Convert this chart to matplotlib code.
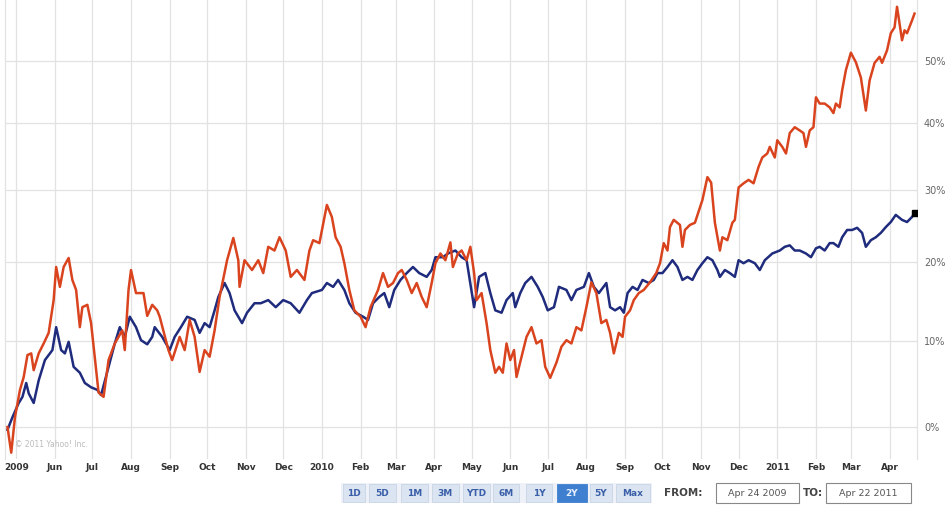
import matplotlib
matplotlib.use("Agg")
import matplotlib.pyplot as plt
import matplotlib.dates as mdates
from matplotlib.patches import Rectangle
import numpy as np
import pandas as pd

# ---------------- data ----------------
red_dates = ["2009-04-24","2009-04-27","2009-04-30","2009-05-04","2009-05-07","2009-05-10","2009-05-13","2009-05-15",
"2009-05-19","2009-05-23","2009-05-27","2009-05-31","2009-06-02","2009-06-05","2009-06-08","2009-06-12","2009-06-15",
"2009-06-18","2009-06-21","2009-06-23","2009-06-27","2009-06-30","2009-07-06","2009-07-10","2009-07-14","2009-07-19",
"2009-07-25","2009-07-27","2009-07-30","2009-08-01","2009-08-05","2009-08-11","2009-08-14","2009-08-18","2009-08-22",
"2009-08-24","2009-08-31","2009-09-03","2009-09-09","2009-09-13","2009-09-17","2009-09-21","2009-09-25","2009-09-29",
"2009-10-03","2009-10-07","2009-10-11","2009-10-17","2009-10-22","2009-10-26","2009-10-27","2009-10-31","2009-11-06",
"2009-11-11","2009-11-15","2009-11-19","2009-11-24","2009-11-28","2009-12-03","2009-12-07","2009-12-12","2009-12-18",
"2009-12-22","2009-12-25","2009-12-30","2010-01-05","2010-01-09","2010-01-12","2010-01-16","2010-01-19","2010-01-23",
"2010-01-27","2010-02-01","2010-02-05","2010-02-09","2010-02-15","2010-02-19","2010-02-23","2010-02-27","2010-03-03",
"2010-03-06","2010-03-10","2010-03-14","2010-03-18","2010-03-22","2010-03-26","2010-03-30","2010-04-02","2010-04-06",
"2010-04-10","2010-04-14","2010-04-16","2010-04-20","2010-04-23","2010-04-27","2010-04-30","2010-05-03","2010-05-05",
"2010-05-09","2010-05-13","2010-05-16","2010-05-20","2010-05-23","2010-05-26","2010-05-29","2010-06-01","2010-06-04",
"2010-06-06","2010-06-10","2010-06-14","2010-06-18","2010-06-22","2010-06-26","2010-06-29","2010-07-03","2010-07-08",
"2010-07-12","2010-07-16","2010-07-20","2010-07-24","2010-07-28","2010-08-01","2010-08-05","2010-08-09","2010-08-13",
"2010-08-17","2010-08-20","2010-08-23","2010-08-27","2010-08-30","2010-09-01","2010-09-05","2010-09-08","2010-09-12",
"2010-09-16","2010-09-21","2010-09-26","2010-09-29","2010-10-02","2010-10-05","2010-10-07","2010-10-10","2010-10-15",
"2010-10-17","2010-10-19","2010-10-23","2010-10-27","2010-11-02","2010-11-06","2010-11-09","2010-11-12","2010-11-16",
"2010-11-18","2010-11-22","2010-11-26","2010-11-28","2010-12-01","2010-12-05","2010-12-09","2010-12-13","2010-12-17",
"2010-12-20","2010-12-24","2010-12-26","2010-12-30","2011-01-01","2011-01-05","2011-01-08","2011-01-11","2011-01-15",
"2011-01-19","2011-01-22","2011-01-24","2011-01-27","2011-01-30","2011-02-01","2011-02-04","2011-02-08","2011-02-12",
"2011-02-15","2011-02-17","2011-02-20","2011-02-22","2011-02-25","2011-03-01","2011-03-05","2011-03-09","2011-03-13",
"2011-03-16","2011-03-20","2011-03-24","2011-03-26","2011-03-30","2011-04-02","2011-04-05","2011-04-07","2011-04-11",
"2011-04-13","2011-04-15","2011-04-19","2011-04-21"]
red_pct = [0.0,-2.8,1.1,4.2,5.7,8.3,8.5,6.5,
8.5,9.7,11.0,15.1,19.4,16.8,19.4,20.6,17.7,
16.4,11.7,14.2,14.5,12.2,3.9,3.4,7.7,9.7,
11.3,8.9,16.4,19.0,16.0,16.0,13.1,14.5,13.8,
13.0,8.9,7.7,10.5,8.9,12.6,10.5,6.3,8.9,
8.1,11.3,15.5,20.3,23.3,20.3,16.8,20.3,19.0,
20.3,18.6,22.1,21.6,23.4,21.6,18.1,19.0,17.7,
21.6,23.0,22.6,27.9,26.2,23.4,22.1,19.9,16.4,
13.8,13.0,11.7,14.2,16.4,18.6,16.8,17.3,18.6,
19.0,17.7,16.0,17.3,15.5,14.2,17.3,19.9,21.2,
20.3,22.7,19.4,21.2,21.6,20.3,22.1,18.6,15.1,
16.0,12.2,8.9,6.2,6.9,6.2,9.7,7.7,8.9,
5.7,8.1,10.5,11.7,9.7,10.1,6.9,5.6,7.4,
9.3,10.1,9.7,11.7,11.3,14.2,17.4,16.0,12.2,
12.6,11.0,8.5,11.0,10.5,13.0,13.8,15.1,16.0,
16.4,17.4,18.6,19.9,22.6,21.6,24.8,25.8,25.1,
22.1,24.4,25.1,25.4,28.6,31.9,31.1,25.4,21.6,
23.4,23.0,25.4,25.8,30.4,31.0,31.5,31.0,33.4,
34.8,35.4,36.4,34.8,37.4,36.4,35.4,38.5,39.4,
38.9,38.5,36.4,38.9,39.4,44.1,43.1,43.1,42.5,
41.6,43.1,42.5,45.2,48.5,51.4,49.8,47.3,42.0,
46.8,49.7,50.7,49.7,51.8,54.7,55.7,59.3,53.5,
55.2,54.7,56.9,58.1]

blue_dates = ["2009-04-24","2009-04-28","2009-05-03","2009-05-06","2009-05-09","2009-05-11","2009-05-15","2009-05-19",
"2009-05-24","2009-05-30","2009-06-02","2009-06-06","2009-06-09","2009-06-12","2009-06-16","2009-06-21","2009-06-25",
"2009-06-30","2009-07-05","2009-07-08","2009-07-14","2009-07-19","2009-07-23","2009-07-27","2009-07-31","2009-08-05",
"2009-08-09","2009-08-14","2009-08-18","2009-08-20","2009-08-26","2009-09-01","2009-09-05","2009-09-10","2009-09-15",
"2009-09-21","2009-09-25","2009-09-29","2009-10-03","2009-10-07","2009-10-10","2009-10-15","2009-10-19","2009-10-23",
"2009-10-29","2009-11-02","2009-11-08","2009-11-13","2009-11-19","2009-11-25","2009-12-01","2009-12-07","2009-12-14",
"2009-12-20","2009-12-24","2010-01-01","2010-01-05","2010-01-10","2010-01-14","2010-01-19","2010-01-23","2010-01-28",
"2010-02-03","2010-02-07","2010-02-11","2010-02-16","2010-02-20","2010-02-24","2010-02-28","2010-03-05","2010-03-10",
"2010-03-15","2010-03-20","2010-03-26","2010-03-30","2010-04-02","2010-04-08","2010-04-12","2010-04-18","2010-04-23",
"2010-04-27","2010-05-03","2010-05-07","2010-05-12","2010-05-16","2010-05-20","2010-05-25","2010-05-29","2010-06-03",
"2010-06-05","2010-06-09","2010-06-13","2010-06-18","2010-06-23","2010-06-27","2010-07-01","2010-07-06","2010-07-10",
"2010-07-16","2010-07-20","2010-07-24","2010-07-30","2010-08-03","2010-08-07","2010-08-11","2010-08-17","2010-08-20",
"2010-08-24","2010-08-28","2010-08-31","2010-09-03","2010-09-07","2010-09-11","2010-09-15","2010-09-20","2010-09-24",
"2010-09-27","2010-10-01","2010-10-05","2010-10-09","2010-10-13","2010-10-17","2010-10-21","2010-10-25","2010-10-29",
"2010-11-02","2010-11-06","2010-11-10","2010-11-14","2010-11-16","2010-11-20","2010-11-24","2010-11-28","2010-12-01",
"2010-12-05","2010-12-09","2010-12-14","2010-12-18","2010-12-22","2010-12-28","2011-01-03","2011-01-07","2011-01-11",
"2011-01-15","2011-01-19","2011-01-24","2011-01-28","2011-02-01","2011-02-04","2011-02-08","2011-02-12","2011-02-15",
"2011-02-19","2011-02-22","2011-02-26","2011-03-02","2011-03-06","2011-03-10","2011-03-13","2011-03-17","2011-03-21",
"2011-03-25","2011-03-29","2011-04-02","2011-04-06","2011-04-11","2011-04-15","2011-04-19","2011-04-21"]
blue_pct = [-0.3,1.1,2.7,3.4,5.0,3.8,2.7,5.3,
7.7,8.9,11.7,8.9,8.5,9.9,6.9,6.2,5.0,
4.5,4.2,3.6,6.9,9.7,11.7,10.5,13.0,11.7,
10.1,9.6,10.5,11.7,10.5,8.9,10.5,11.7,13.0,
12.6,11.0,12.2,11.7,13.8,15.5,17.3,16.0,13.8,
12.2,13.5,14.7,14.7,15.1,14.2,15.1,14.7,13.5,
15.1,16.0,16.4,17.3,16.8,17.7,16.4,14.7,13.5,
13.0,12.6,14.7,15.5,16.0,14.2,16.4,17.7,18.6,
19.4,18.6,18.1,19.0,20.7,20.7,21.2,21.6,20.7,
20.3,14.2,18.1,18.6,16.0,13.8,13.5,15.1,16.0,
14.2,16.0,17.3,18.1,16.8,15.5,13.8,14.2,16.8,
16.4,15.1,16.4,16.8,18.6,16.8,16.0,17.3,14.2,
13.8,14.2,13.5,16.0,16.8,16.4,17.7,17.3,17.7,
18.6,18.6,19.4,20.3,19.4,17.7,18.1,17.7,19.0,
19.9,20.7,20.3,19.0,18.1,19.0,18.6,18.1,20.3,
19.9,20.3,19.9,19.0,20.3,21.2,21.6,22.1,22.3,
21.6,21.6,21.2,20.7,21.9,22.1,21.6,22.6,22.6,
22.1,23.4,24.4,24.4,24.7,24.0,22.1,23.0,23.4,
24.0,24.8,25.5,26.5,25.8,25.5,26.2,26.7]

month_ticks = pd.date_range("2009-05-01", "2011-04-01", freq="MS")
month_labels = ["2009","Jun","Jul","Aug","Sep","Oct","Nov","Dec","2010","Feb","Mar","Apr",
                "May","Jun","Jul","Aug","Sep","Oct","Nov","Dec","2011","Feb","Mar","Apr"]
ytick_pct = [0, 10, 20, 30, 40, 50]
ytick_labels = ["0%", "10%", "20%", "30%", "40%", "50%"]
buttons = ["1D", "5D", "1M", "3M", "YTD", "6M", "1Y", "2Y", "5Y", "Max"]
active_button = "2Y"
from_text = "Apr 24 2009"
to_text = "Apr 22 2011"

# ---------------- figure ----------------
W, H = 948, 508
fig = plt.figure(figsize=(W/100, H/100), dpi=100)
fig.patch.set_facecolor("white")

def fx(px): return px / W
def fy(py): return 1 - py / H

ax = fig.add_axes([fx(5), fy(459), fx(917) - fx(5), fy(0) - fy(459)])
ax.set_facecolor("white")

rd = pd.to_datetime(red_dates)
bd = pd.to_datetime(blue_dates)
rv = 1 + np.array(red_pct) / 100.0
bv = 1 + np.array(blue_pct) / 100.0

ax.plot(bd, bv, color="#1f2b7c", lw=1.8, zorder=3, solid_joinstyle="round")
ax.plot(rd, rv, color="#d9441f", lw=1.8, zorder=4, solid_joinstyle="round")
ax.plot(bd[-1:], bv[-1:], marker="s", ms=4, color="black", zorder=5)

ax.set_yscale("log")
ax.set_ylim(0.9652, 1.605)
ax.set_xlim(pd.Timestamp("2009-04-22"), pd.Timestamp("2011-04-23"))

ax.yaxis.set_major_locator(matplotlib.ticker.FixedLocator([1 + p/100 for p in ytick_pct]))
ax.yaxis.set_major_formatter(matplotlib.ticker.FixedFormatter(ytick_labels))
ax.yaxis.set_minor_locator(matplotlib.ticker.NullLocator())
ax.yaxis.tick_right()
ax.tick_params(axis="y", length=0, pad=5, labelsize=7, labelcolor="#666666")

ax.set_xticks(month_ticks)
ax.set_xticklabels(month_labels)
ax.tick_params(axis="x", length=0, pad=3, labelsize=6.5, labelcolor="#333333")
for lab in ax.get_xticklabels():
    lab.set_fontweight("bold")

ax.grid(True, color="#e2e2e2", lw=0.9, zorder=0)
for s in ["top", "bottom"]:
    ax.spines[s].set_visible(False)
for s in ["left", "right"]:
    ax.spines[s].set_color("#e2e2e2")
    ax.spines[s].set_linewidth(0.9)

ax.text(0.011, 0.022, "\u00a9 2011 Yahoo! Inc.", transform=ax.transAxes,
        fontsize=5.5, color="#bbbbbb", ha="left", va="bottom")

# ---------------- controls ----------------
btn_edges = [(343, 365), (369, 396), (401, 428), (432, 459), (463, 490),
             (493, 519), (526, 552), (557, 587), (590, 612), (616, 650)]
y0, y1 = 484, 502
fig.add_artist(Rectangle((fx(341), fy(y1 + 1)), fx(652) - fx(341), fy(y0 - 1) - fy(y1 + 1),
                         transform=fig.transFigure, facecolor="#eef2f8", edgecolor="none"))
for name, (a, b) in zip(buttons, btn_edges):
    active = name == active_button
    fig.add_artist(Rectangle((fx(a), fy(y1)), fx(b) - fx(a), fy(y0) - fy(y1),
                             transform=fig.transFigure,
                             facecolor="#3f7fcf" if active else "#dbe5f2",
                             edgecolor="#c8d4e6" if not active else "#3f7fcf", lw=0.6))
    fig.text(fx((a + b) / 2), fy((y0 + y1) / 2), name, ha="center", va="center",
             fontsize=6.5, fontweight="bold",
             color="#e8f0ff" if active else "#3a5ea8")

fig.text(fx(664), fy(493), "FROM:", ha="left", va="center", fontsize=7.5,
         fontweight="bold", color="#444444")
for (a, b), txt in [((716, 799), from_text), ((826, 911), to_text)]:
    fig.add_artist(Rectangle((fx(a), fy(503)), fx(b) - fx(a), fy(483) - fy(503),
                             transform=fig.transFigure, facecolor="white",
                             edgecolor="#888888", lw=0.8))
    fig.text(fx((a + b) / 2), fy(493), txt, ha="center", va="center",
             fontsize=6.8, color="#555555")
fig.text(fx(803), fy(493), "TO:", ha="left", va="center", fontsize=7.5,
         fontweight="bold", color="#444444")

fig.savefig("out.png", dpi=100, facecolor="white")
